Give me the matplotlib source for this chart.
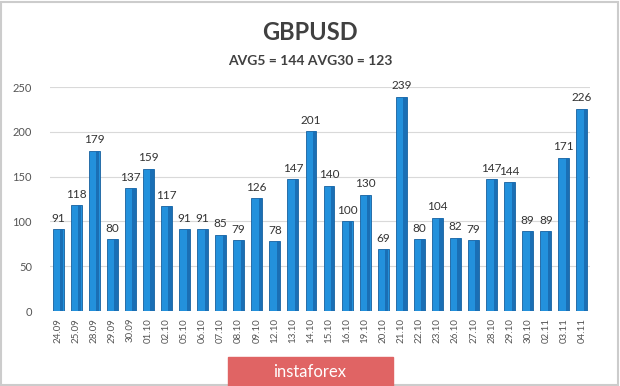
import matplotlib.pyplot as plt
from matplotlib.patches import Rectangle

plt.rcParams["font.family"] = ["Lato", "DejaVu Sans"]

dates = ["24.09", "25.09", "28.09", "29.09", "30.09", "01.10", "02.10", "05.10",
         "06.10", "07.10", "08.10", "09.10", "12.10", "13.10", "14.10", "15.10",
         "16.10", "19.10", "20.10", "21.10", "22.10", "23.10", "26.10", "27.10",
         "28.10", "29.10", "30.10", "02.11", "03.11", "04.11"]
values = [91, 118, 179, 80, 137, 159, 117, 91, 91, 85, 79, 126, 78, 147, 201,
          140, 100, 130, 69, 239, 80, 104, 82, 79, 147, 144, 89, 89, 171, 226]
yticks = [0, 50, 100, 150, 200, 250]

fig = plt.figure(figsize=(6.2, 3.86), dpi=100)
ax = fig.add_axes([50 / 620, 1 - 311 / 386, 540 / 620, 224 / 386])

x = list(range(len(values)))
ax.bar(x, values, width=0.6, color="#2391dc", edgecolor="#17609e", linewidth=0.6, zorder=3)
# darker right side for a bit of the 3D look
ax.bar([i + 0.2 for i in x], values, width=0.18, color="#1a6fb5", linewidth=0, zorder=4)

for i, v in enumerate(values):
    ax.text(i, v + 6, str(v), ha="center", va="bottom", fontsize=8.5, color="#333333")

ax.set_xlim(-0.45, 29.45)
ax.set_ylim(0, 250)
ax.set_yticks(yticks)
ax.set_xticks(x)
ax.set_xticklabels(dates, rotation=90, fontsize=7, color="#555555")
ax.tick_params(axis="y", labelsize=8, colors="#555555", length=0, pad=13)
ax.tick_params(axis="x", length=0, pad=5)
ax.grid(axis="y", color="#d9d9d9", linewidth=0.8, zorder=0)
for s in ax.spines.values():
    s.set_visible(False)

fig.text(0.5, 1 - 33 / 386, "GBPUSD", ha="center", va="center", fontsize=17,
         fontweight="bold", color="#404040")
fig.text(0.5, 1 - 61 / 386, "AVG5 = 144 AVG30 = 123", ha="center", va="center",
         fontsize=10, fontweight="bold", color="#404040")

# watermark box
fig.patches.append(Rectangle((228 / 620, 0), 165 / 620, 29 / 386, transform=fig.transFigure,
                             color="#e06464", zorder=5))
fig.text(310 / 620, 14 / 386, "instaforex", ha="center", va="center", fontsize=12,
         color="white", zorder=6)

# light frame
fig.patches.append(Rectangle((0.002, 0.003), 0.995, 0.993, transform=fig.transFigure,
                             fill=False, edgecolor="#cccccc", linewidth=1.5))

fig.savefig("out.png", dpi=100)
